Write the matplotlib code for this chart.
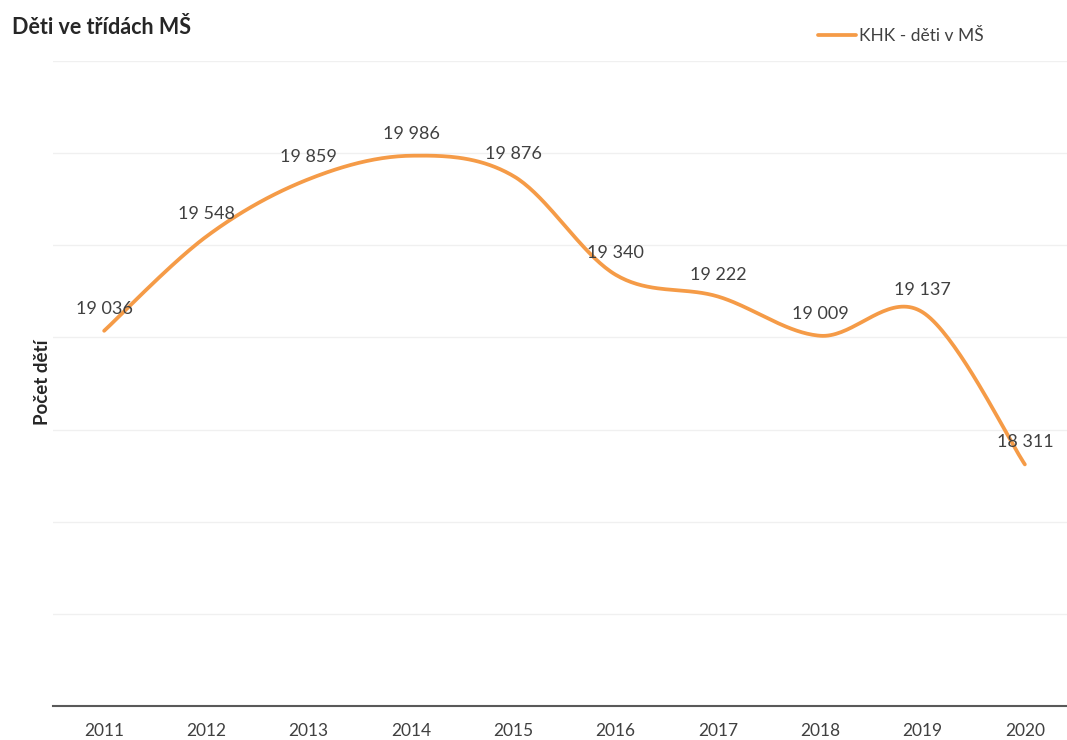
import numpy as np
import matplotlib
matplotlib.use('Agg')
import matplotlib.pyplot as plt

plt.rcParams['font.family'] = ['Lato', 'DejaVu Sans']

years = ['2011', '2012', '2013', '2014', '2015', '2016', '2017', '2018', '2019', '2020']
deti = [19036, 19548, 19859, 19986, 19876, 19340, 19222, 19009, 19137, 18311]
title = 'Děti ve třídách MŠ'
series_name = 'KHK - děti v MŠ'
y_label = 'Počet dětí'

orange = '#F59B47'


def smooth(x, y, n=40):
    # Excel-like smoothed line (Catmull-Rom as cubic bezier segments)
    x = np.asarray(x, float)
    y = np.asarray(y, float)
    px = np.concatenate([[x[0]], x, [x[-1]]])
    py = np.concatenate([[y[0]], y, [y[-1]]])
    xs, ys = [], []
    t = np.linspace(0, 1, n)
    for i in range(1, len(px) - 2):
        p0 = np.array([px[i], py[i]])
        p3 = np.array([px[i + 1], py[i + 1]])
        c1 = p0 + (np.array([px[i + 1], py[i + 1]]) - np.array([px[i - 1], py[i - 1]])) / 6
        c2 = p3 - (np.array([px[i + 2], py[i + 2]]) - np.array([px[i], py[i]])) / 6
        b = ((1 - t) ** 3)[:, None] * p0 + (3 * (1 - t) ** 2 * t)[:, None] * c1 \
            + (3 * (1 - t) * t ** 2)[:, None] * c2 + (t ** 3)[:, None] * p3
        xs.append(b[:, 0])
        ys.append(b[:, 1])
    return np.concatenate(xs), np.concatenate(ys)


fig = plt.figure(figsize=(10.67, 7.4), dpi=100)
ax = fig.add_axes([53 / 1067, 1 - 706 / 740, (1076 - 53) / 1067, (706 - 61) / 740])

x = np.arange(len(years))
sx, sy = smooth(x, deti)
line, = ax.plot(sx, sy, color=orange, lw=2.7, solid_capstyle='round', zorder=3, label=series_name)

# data labels above the points
for xi, v in zip(x, deti):
    lab = '{:,}'.format(v).replace(',', ' ')
    ax.annotate(lab, (xi, v), xytext=(0, 22), textcoords='offset pixels',
                ha='center', va='center', fontsize=13, color='#404040', zorder=4)

ax.set_xlim(-0.5, len(years) - 0.5)
ax.set_ylim(17000, 20500)
ax.set_yticks(np.arange(17000, 20501, 500))
ax.set_yticklabels([])
ax.set_xticks(x)
ax.set_xticklabels(years, fontsize=12.5, color='#404040')
ax.tick_params(axis='both', length=0)
ax.tick_params(axis='x', pad=12)
ax.grid(axis='y', color='#F0F0F0', lw=1)
ax.set_axisbelow(True)
for s in ['top', 'right', 'left']:
    ax.spines[s].set_visible(False)
ax.spines['bottom'].set_color('#595959')
ax.spines['bottom'].set_linewidth(1.5)

fig.text(42 / 1067, 1 - 382 / 740, y_label, rotation=90, ha='center', va='center',
         fontsize=13.5, fontweight='bold', color='#262626')
fig.text(12 / 1067, 1 - 28 / 740, title, ha='left', va='center', fontsize=15.5,
         fontweight='bold', color='#262626')

fig.legend(handles=[line], loc='center left', bbox_to_anchor=(802 / 1067, 1 - 36 / 740),
           frameon=False, fontsize=12.5, handlelength=2.2, handletextpad=0.2,
           labelcolor='#404040')

fig.savefig('out.png', dpi=100)
